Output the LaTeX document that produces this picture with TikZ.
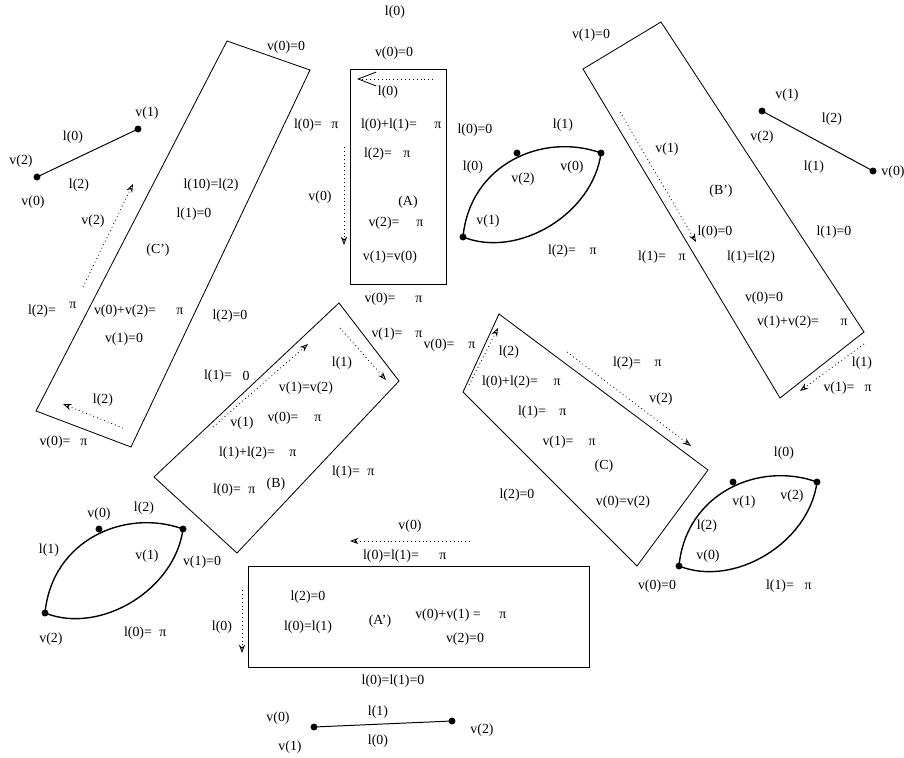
\documentclass[tikz,border=0pt]{standalone}
\usepackage{fontspec}
\setmainfont{Liberation Serif}
\usetikzlibrary{arrows.meta}

\begin{document}
\begin{tikzpicture}[x=0.72pt, y=-0.72pt, font=\fontsize{10}{12}\selectfont, every node/.style={inner sep=0pt}]

% styles
\tikzset{
  box/.style={draw=black, line width=0.6pt, line join=miter},
  lens/.style={draw=black, line width=1pt},
  seg/.style={draw=black, line width=0.7pt},
  vtx/.style={circle, fill=black, minimum size=5pt, inner sep=0pt},
  lbl/.style={inner sep=0pt},
  dotarrow/.style={line width=0.6pt, dash pattern=on 0.6pt off 2.2pt, -{Stealth[open,length=6pt,width=4.5pt]}},
  bigarrow/.style={line width=0.6pt, dash pattern=on 0.6pt off 2.2pt, -{Straight Barb[length=13pt,width=10pt]}}
}

\useasboundingbox (0,0) rectangle (904,758);

% corner coordinates of the six cells
\coordinate (Cp1) at (227,41);  \coordinate (Cp2) at (310,70);
\coordinate (Cp3) at (131,447); \coordinate (Cp4) at (36,411);
\coordinate (A1) at (350,69);   \coordinate (A2) at (446,284);
\coordinate (Bp1) at (661,22);  \coordinate (Bp2) at (864,332);
\coordinate (Bp3) at (780,398); \coordinate (Bp4) at (583,69);
\coordinate (B1) at (339,303);  \coordinate (B2) at (399,381);
\coordinate (B3) at (237,553);  \coordinate (B4) at (154,477);
\coordinate (C1) at (499,314);  \coordinate (C2) at (708,470);
\coordinate (C3) at (637,566);  \coordinate (C4) at (463,392);
\coordinate (Ap1) at (248,566); \coordinate (Ap2) at (589,667);

\draw[box] (Cp1) -- (Cp2) -- (Cp3) -- (Cp4) -- cycle;
\draw[box] (A1) rectangle (A2);
\draw[box] (Bp1) -- (Bp2) -- (Bp3) -- (Bp4) -- cycle;
\draw[box] (B1) -- (B2) -- (B3) -- (B4) -- cycle;
\draw[box] (C1) -- (C2) -- (C3) -- (C4) -- cycle;
\draw[box] (Ap1) rectangle (Ap2);

% segments
\node[vtx] (sc1) at (138,129) {};
\node[vtx] (sc2) at (37,177) {};
\node[vtx] (sb1) at (762,111) {};
\node[vtx] (sb2) at (873,171) {};
\node[vtx] (sa1) at (314,727) {};
\node[vtx] (sa2) at (452,721) {};
\draw[seg] (sc1.center) -- (sc2.center);
\draw[seg] (sb1.center) -- (sb2.center);
\draw[seg] (sa1.center) -- (sa2.center);

% lenses
\node[vtx] (ll1) at (45,613) {};  \node[vtx] (ll2) at (99,529) {};  \node[vtx] (ll3) at (183,529) {};
\node[vtx] (lu1) at (463,237) {}; \node[vtx] (lu2) at (517,153) {}; \node[vtx] (lu3) at (601,153) {};
\node[vtx] (lr1) at (679,566) {}; \node[vtx] (lr2) at (733,482) {}; \node[vtx] (lr3) at (817,482) {};
\draw[lens] (ll1.center) .. controls +(7,-73) and +(-58,-21) .. (ll3.center);
\draw[lens] (ll1.center) .. controls +(55,22) and +(-8,61) .. (ll3.center);
\draw[lens] (lu1.center) .. controls +(7,-73) and +(-58,-21) .. (lu3.center);
\draw[lens] (lu1.center) .. controls +(55,22) and +(-8,61) .. (lu3.center);
\draw[lens] (lr1.center) .. controls +(7,-73) and +(-58,-21) .. (lr3.center);
\draw[lens] (lr1.center) .. controls +(55,22) and +(-8,61) .. (lr3.center);

% dotted arrows
\coordinate (da1) at (83,287);   \coordinate (db1) at (133,184);
\coordinate (da2) at (123,428);  \coordinate (db2) at (63,404);
\coordinate (da3) at (433,79);   \coordinate (db3) at (357,79);
\coordinate (da4) at (344,147);  \coordinate (db4) at (344,245);
\coordinate (da5) at (620,112);  \coordinate (db5) at (696,242);
\coordinate (da6) at (864,344);  \coordinate (db6) at (800,391);
\coordinate (da7) at (213,427);  \coordinate (db7) at (308,344);
\coordinate (da8) at (340,328);  \coordinate (db8) at (386,380);
\coordinate (da9) at (469,385);  \coordinate (db9) at (498,328);
\coordinate (da10) at (567,352); \coordinate (db10) at (691,446);
\coordinate (da11) at (470,541); \coordinate (db11) at (350,541);
\coordinate (da12) at (242,590); \coordinate (db12) at (242,653);
\draw[dotarrow] (da1) -- (db1);
\draw[dotarrow] (da2) -- (db2);
\draw[bigarrow] (da3) -- (db3);
\draw[dotarrow] (da4) -- (db4);
\draw[dotarrow] (da5) -- (db5);
\draw[dotarrow] (da6) -- (db6);
\draw[dotarrow] (da7) -- (db7);
\draw[dotarrow] (da8) -- (db8);
\draw[dotarrow] (da9) -- (db9);
\draw[dotarrow] (da10) -- (db10);
\draw[dotarrow] (da11) -- (db11);
\draw[dotarrow] (da12) -- (db12);

% labels: top
\node[lbl] (t1) at (395,12) {l(0)};
\node[lbl] (t2) at (394,53) {v(0)=0};
\node[lbl] (t3) at (286,47) {v(0)=0};
\node[lbl] (t4) at (591,35) {v(1)=0};

% labels: cell C' and its segment
\node[lbl] (c1) at (147,113) {v(1)};
\node[lbl] (c2) at (73,137) {l(0)};
\node[lbl] (c3) at (21,161) {v(2)};
\node[lbl] (c4) at (79,185) {l(2)};
\node[lbl] (c5) at (33,202) {v(0)};
\node[lbl] (c6) at (211,185) {l(10)=l(2)};
\node[lbl] (c7) at (194,214) {l(1)=0};
\node[lbl] (c8) at (158,250) {(C')};
\node[lbl] (c9) at (93,221) {v(2)};
\node[lbl] (c10) at (42,311) {l(2)=};   \node[lbl] (c10p) at (73,305) {π};
\node[lbl] (c11) at (125,311) {v(0)+v(2)=}; \node[lbl] (c11p) at (180,311) {π};
\node[lbl] (c12) at (124,339) {v(1)=0};
\node[lbl] (c13) at (230,316) {l(2)=0};
\node[lbl] (c14) at (103,400) {l(2)};
\node[lbl] (c15) at (55,442) {v(0)=};   \node[lbl] (c15p) at (84,442) {π};
\node[lbl] (c16) at (308,125) {l(0)=};  \node[lbl] (c16p) at (335,125) {π};

% labels: cell A
\node[lbl] (a1) at (388,92) {l(0)};
\node[lbl] (a2) at (389,125) {l(0)+l(1)=}; \node[lbl] (a2p) at (438,125) {π};
\node[lbl] (a3) at (378,154) {l(2)=};   \node[lbl] (a3p) at (407,154) {π};
\node[lbl] (a4) at (320,197) {v(0)};
\node[lbl] (a5) at (408,202) {(A)};
\node[lbl] (a6) at (384,223) {v(2)=};   \node[lbl] (a6p) at (420,223) {π};
\node[lbl] (a7) at (390,257) {v(1)=v(0)};
\node[lbl] (a8) at (380,299) {v(0)=};   \node[lbl] (a8p) at (419,299) {π};
\node[lbl] (a9) at (387,334) {v(1)=};   \node[lbl] (a9p) at (419,334) {π};

% labels: upper lens
\node[lbl] (u1) at (475,130) {l(0)=0};
\node[lbl] (u2) at (563,125) {l(1)};
\node[lbl] (u3) at (473,167) {l(0)};
\node[lbl] (u4) at (523,179) {v(2)};
\node[lbl] (u5) at (572,167) {v(0)};
\node[lbl] (u6) at (488,221) {v(1)};
\node[lbl] (u7) at (562,251) {l(2)=};   \node[lbl] (u7p) at (593,251) {π};

% labels: cell B' and its segment
\node[lbl] (bp1) at (667,149) {v(1)};
\node[lbl] (bp2) at (762,137) {v(2)};
\node[lbl] (bp3) at (721,191) {(B')};
\node[lbl] (bp4) at (715,232) {l(0)=0};
\node[lbl] (bp5) at (834,232) {l(1)=0};
\node[lbl] (bp6) at (652,257) {l(1)=};  \node[lbl] (bp6p) at (682,257) {π};
\node[lbl] (bp7) at (751,257) {l(1)=l(2)};
\node[lbl] (bp8) at (764,298) {v(0)=0};
\node[lbl] (bp9) at (788,322) {v(1)+v(2)=}; \node[lbl] (bp9p) at (844,322) {π};
\node[lbl] (bp10) at (862,363) {l(1)};
\node[lbl] (bp11) at (839,388) {v(1)=}; \node[lbl] (bp11p) at (868,388) {π};
\node[lbl] (bp12) at (787,95) {v(1)};
\node[lbl] (bp13) at (832,119) {l(2)};
\node[lbl] (bp14) at (814,167) {l(1)};
\node[lbl] (bp15) at (893,172) {v(0)};

% labels: cell B
\node[lbl] (b1) at (218,376) {l(1)=};   \node[lbl] (b1z) at (246,376) {0};
\node[lbl] (b2) at (342,363) {l(1)};
\node[lbl] (b3) at (306,388) {v(1)=v(2)};
\node[lbl] (b4) at (242,423) {v(1)};
\node[lbl] (b5) at (283,418) {v(0)=};   \node[lbl] (b5p) at (318,418) {π};
\node[lbl] (b6) at (247,453) {l(1)+l(2)=}; \node[lbl] (b6p) at (293,453) {π};
\node[lbl] (b7) at (227,490) {l(0)=};   \node[lbl] (b7p) at (252,490) {π};
\node[lbl] (b8) at (276,484) {(B)};
\node[lbl] (b9) at (346,472) {l(1)=};   \node[lbl] (b9p) at (371,472) {π};

% labels: cell C
\node[lbl] (k1) at (439,345) {v(0)=};   \node[lbl] (k1p) at (472,345) {π};
\node[lbl] (k2) at (509,352) {l(2)};
\node[lbl] (k3) at (510,382) {l(0)+l(2)=}; \node[lbl] (k3p) at (557,382) {π};
\node[lbl] (k4) at (532,412) {l(1)=};   \node[lbl] (k4p) at (563,412) {π};
\node[lbl] (k5) at (558,442) {v(1)=};   \node[lbl] (k5p) at (592,442) {π};
\node[lbl] (k6) at (604,466) {(C)};
\node[lbl] (k7) at (517,495) {l(2)=0};
\node[lbl] (k8) at (623,502) {v(0)=v(2)};
\node[lbl] (k9) at (627,363) {l(2)=};   \node[lbl] (k9p) at (658,363) {π};
\node[lbl] (k10) at (661,399) {v(2)};

% labels: right lens
\node[lbl] (r1) at (784,453) {l(0)};
\node[lbl] (r2) at (744,502) {v(1)};
\node[lbl] (r3) at (792,496) {v(2)};
\node[lbl] (r4) at (707,526) {l(2)};
\node[lbl] (r5) at (708,556) {v(0)};
\node[lbl] (r6) at (657,586) {v(0)=0};
\node[lbl] (r7) at (780,586) {l(1)=};   \node[lbl] (r7p) at (808,586) {π};

% labels: left lens
\node[lbl] (l1) at (99,514) {v(0)};
\node[lbl] (l2) at (144,508) {l(2)};
\node[lbl] (l3) at (49,550) {l(1)};
\node[lbl] (l4) at (147,556) {v(1)};
\node[lbl] (l5) at (202,562) {v(1)=0};
\node[lbl] (l6) at (51,639) {v(2)};
\node[lbl] (l7) at (138,633) {l(0)=};   \node[lbl] (l7p) at (163,633) {π};

% labels: cell A' and its segment
\node[lbl] (ap1) at (410,526) {v(0)};
\node[lbl] (ap2) at (391,556) {l(0)=l(1)=}; \node[lbl] (ap2p) at (443,556) {π};
\node[lbl] (ap3) at (222,627) {l(0)};
\node[lbl] (ap4) at (308,597) {l(2)=0};
\node[lbl] (ap5) at (308,627) {l(0)=l(1)};
\node[lbl] (ap6) at (380,621) {(A')};
\node[lbl] (ap7) at (448,615) {v(0)+v(1) =}; \node[lbl] (ap7p) at (503,615) {π};
\node[lbl] (ap8) at (465,639) {v(2)=0};
\node[lbl] (ap9) at (393,681) {l(0)=l(1)=0};
\node[lbl] (ap10) at (278,718) {v(0)};
\node[lbl] (ap11) at (378,712) {l(1)};
\node[lbl] (ap12) at (482,730) {v(2)};
\node[lbl] (ap13) at (290,747) {v(1)};
\node[lbl] (ap14) at (378,741) {l(0)};

\end{tikzpicture}
\end{document}
